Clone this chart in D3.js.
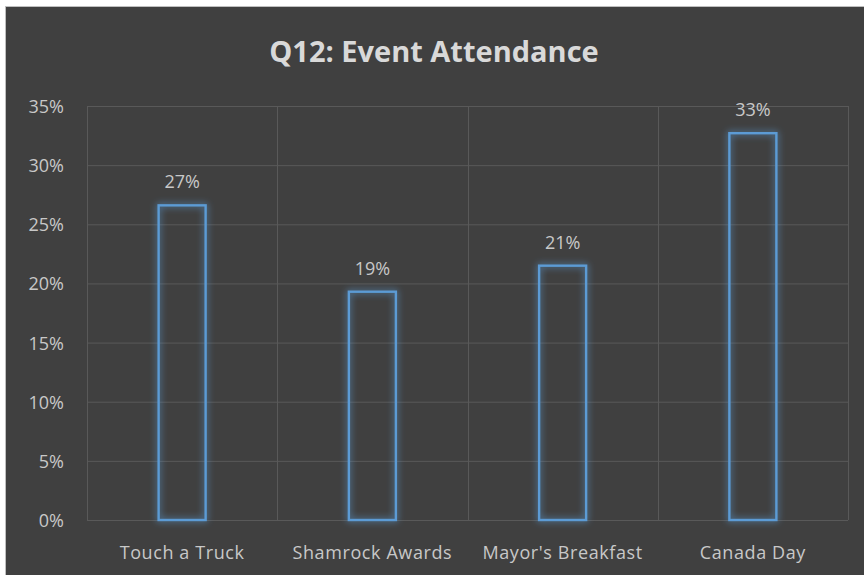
<!DOCTYPE html>
<html lang="en">
<head>
    <meta charset="UTF-8">
    <title>Q12: Event Attendance</title>
    <script src="https://cdnjs.cloudflare.com/ajax/libs/d3/7.8.5/d3.min.js"></script>
    <style>
        body { margin: 0; background: #ffffff; }
        svg { display: block; }
        text { font-family: "Open Sans", "Liberation Sans", sans-serif; }
        .grid line { stroke: #595959; stroke-width: 1; }
        .grid path { display: none; }
        .tick-label { fill: #c8c8c8; font-size: 18px; }
        .tick-label.x { letter-spacing: 0.6px; }
        .bar { fill: none; stroke: #5b9bd5; stroke-width: 2.4; }
        .value-label { fill: #c8c8c8; font-size: 18px; text-anchor: middle; }
        .title { fill: #d9d9d9; font-size: 29px; font-weight: bold; text-anchor: middle; }
    </style>
</head>
<body>
<div class="chart"></div>
<script>
    var categories = ["Touch a Truck", "Shamrock Awards", "Mayor's Breakfast", "Canada Day"];
    var values = [0.266, 0.193, 0.215, 0.327];
    var valueLabels = ["27%", "19%", "21%", "33%"];
    var yTicks = [0, 0.05, 0.10, 0.15, 0.20, 0.25, 0.30, 0.35];

    var width = 864, height = 575;
    var plot = { left: 87, right: 848, top: 106, bottom: 520 };

    var svg = d3.select(".chart").append("svg")
        .attr("width", width)
        .attr("height", height);

    // soft glow round the bar outlines
    var defs = svg.append("defs");
    var glow = defs.append("filter").attr("id", "glow")
        .attr("x", "-50%").attr("y", "-20%").attr("width", "200%").attr("height", "140%");
    glow.append("feGaussianBlur").attr("in", "SourceGraphic").attr("stdDeviation", 3.5).attr("result", "blur");
    var merge = glow.append("feMerge");
    merge.append("feMergeNode").attr("in", "blur");
    merge.append("feMergeNode").attr("in", "SourceGraphic");

    svg.append("rect")
        .attr("x", 5.5).attr("y", 6.5)
        .attr("width", width).attr("height", height)
        .attr("fill", "#404040")
        .attr("stroke", "#bfbfbf")
        .attr("stroke-width", 1);

    var x = d3.scaleBand()
        .domain(categories)
        .range([plot.left, plot.right]);

    var y = d3.scaleLinear()
        .domain([0, 0.35])
        .range([plot.bottom, plot.top]);

    // horizontal gridlines
    svg.append("g")
        .attr("class", "grid")
        .attr("transform", "translate(" + plot.left + ",0)")
        .call(d3.axisLeft(y).tickValues(yTicks).tickSize(-(plot.right - plot.left)).tickFormat(""));

    // vertical gridlines at category boundaries
    var bounds = categories.map(function(c) { return x(c); }).concat([plot.right]);
    svg.append("g").attr("class", "grid")
        .selectAll("line")
        .data(bounds)
        .enter()
        .append("line")
        .attr("x1", function(d) { return Math.round(d) + 0.5; })
        .attr("x2", function(d) { return Math.round(d) + 0.5; })
        .attr("y1", plot.top)
        .attr("y2", plot.bottom);

    // y tick labels
    svg.selectAll(".tick-label.y")
        .data(yTicks)
        .enter()
        .append("text")
        .attr("class", "tick-label y")
        .attr("x", 64)
        .attr("y", function(d) { return y(d) + 7; })
        .attr("text-anchor", "end")
        .text(d3.format(".0%"));

    // category labels
    svg.selectAll(".tick-label.x")
        .data(categories)
        .enter()
        .append("text")
        .attr("class", "tick-label x")
        .attr("x", function(d) { return x(d) + x.bandwidth() / 2; })
        .attr("y", 559)
        .attr("text-anchor", "middle")
        .text(function(d) { return d; });

    var barWidth = 47;
    svg.selectAll(".bar")
        .data(values)
        .enter()
        .append("rect")
        .attr("class", "bar")
        .attr("filter", "url(#glow)")
        .attr("x", function(d, i) { return x(categories[i]) + x.bandwidth() / 2 - barWidth / 2; })
        .attr("y", function(d) { return y(d); })
        .attr("width", barWidth)
        .attr("height", function(d) { return y(0) - y(d); });

    svg.selectAll(".value-label")
        .data(values)
        .enter()
        .append("text")
        .attr("class", "value-label")
        .attr("x", function(d, i) { return x(categories[i]) + x.bandwidth() / 2; })
        .attr("y", function(d) { return y(d) - 17; })
        .text(function(d, i) { return valueLabels[i]; });

    svg.append("text")
        .attr("class", "title")
        .attr("x", 434)
        .attr("y", 62)
        .text("Q12: Event Attendance");
</script>
</body>
</html>
